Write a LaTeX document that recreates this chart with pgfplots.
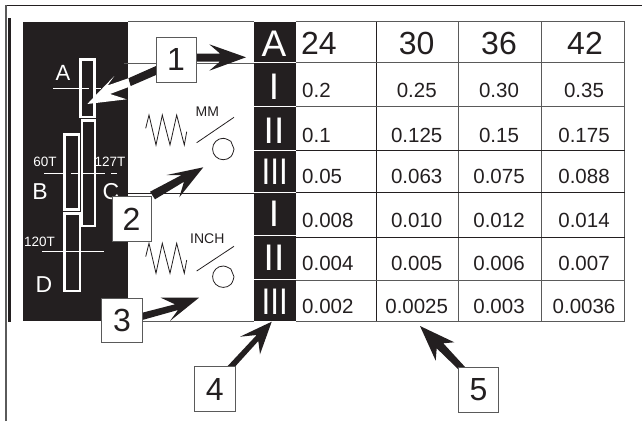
\documentclass[border=0pt]{standalone}
\usepackage{pgfplots}
\pgfplotsset{compat=1.18}
\usepackage{fontspec}
\setmainfont{Liberation Sans}
\definecolor{ink}{HTML}{231F20}
\definecolor{rule}{HTML}{5A5A5A}
\newcommand{\fs}[1]{\fontsize{#1}{#1}\selectfont}
\begin{document}
\begin{tikzpicture}[x=1pt,y=1pt]
\path[use as bounding box] (0,0) rectangle (642,421);
\begin{axis}[
  scale only axis, width=642pt, height=421pt,
  xmin=0, xmax=642, ymin=0, ymax=421, y dir=reverse,
  hide axis, clip=true,
  anchor=south west, at={(0pt,0pt)},
]
% frame
\addplot[draw=rule, line width=1.6pt] coordinates {(6,421) (6,5.5) (642,5.5)};
\addplot[draw=ink, line width=1.6pt] coordinates {(7,5.5) (642,5.5)};
\addplot[draw=ink, line width=2.4pt] coordinates {(9.3,18) (9.3,322)};
% black panels
\addplot[fill=ink, draw=none] coordinates {(22.7,21.7) (128.3,21.7) (128.3,321) (22.7,321)} --cycle;
\addplot[fill=ink, draw=none] coordinates {(254.3,21.7) (295.7,21.7) (295.7,321) (254.3,321)} --cycle;
% thin rules, middle panel
\addplot[draw=rule, line width=0.8pt] coordinates {(128,21.7) (254,21.7)};
\addplot[draw=rule, line width=0.8pt] coordinates {(124,63) (254,63)};
\addplot[draw=ink, line width=0.8pt] coordinates {(128,193) (254,193)};
\addplot[draw=rule, line width=0.8pt] coordinates {(128,321) (254,321)};
% table grid
\addplot[draw=rule, line width=0.9pt] coordinates {(295.7,21.7) (624.7,21.7) (624.7,321) (295.7,321)};
\addplot[draw=ink, line width=0.9pt] coordinates {(376.7,21.7) (376.7,321)};
\addplot[draw=rule, line width=0.9pt] coordinates {(458.7,21.7) (458.7,321)};
\addplot[draw=rule, line width=0.9pt] coordinates {(541.3,21.7) (541.3,321)};
\addplot[draw=rule, line width=0.9pt] coordinates {(295.7,62.7) (624.7,62.7)};
\addplot[draw=rule, line width=0.9pt] coordinates {(295.7,106.7) (624.7,106.7)};
\addplot[draw=ink, line width=0.9pt] coordinates {(295.7,150) (624.7,150)};
\addplot[draw=ink, line width=0.9pt] coordinates {(295.7,192.7) (624.7,192.7)};
\addplot[draw=ink, line width=0.9pt] coordinates {(295.7,237) (624.7,237)};
\addplot[draw=rule, line width=0.9pt] coordinates {(295.7,280) (624.7,280)};
% white separators in the black column
\addplot[draw=white, line width=1pt] coordinates {(254.3,62.7) (295.7,62.7)};
\addplot[draw=white, line width=1pt] coordinates {(254.3,106.7) (295.7,106.7)};
\addplot[draw=white, line width=1pt] coordinates {(254.3,150) (295.7,150)};
\addplot[draw=white, line width=1pt] coordinates {(254.3,192.7) (295.7,192.7)};
\addplot[draw=white, line width=1pt] coordinates {(254.3,235.7) (295.7,235.7)};
\addplot[draw=white, line width=1pt] coordinates {(254.3,279.3) (295.7,279.3)};
% gears
\addplot[draw=white, line width=2.3pt] coordinates {(80.5,117) (80.5,59.5) (94.5,59.5) (94.5,117)} --cycle;
\addplot[draw=white, line width=2.3pt] coordinates {(82,120.5) (82,226) (95,226) (95,120.5)} --cycle;
\addplot[draw=white, line width=2.3pt] coordinates {(64.5,209.5) (64.5,134.5) (79,134.5) (79,209.5)} --cycle;
\addplot[draw=white, line width=2.3pt] coordinates {(64.5,213.5) (64.5,291) (80,291) (80,213.5)} --cycle;
% shafts
\addplot[draw=white, line width=0.9pt] coordinates {(53,88.5) (89,88.5)};
\addplot[draw=white, line width=0.9pt] coordinates {(96,88.5) (101,88.5)};
\addplot[draw=white, line width=0.9pt] coordinates {(44,173.3) (66,173.3)};
\addplot[draw=white, line width=0.9pt] coordinates {(70.7,173.3) (78,173.3)};
\addplot[draw=white, line width=0.9pt] coordinates {(83,173.3) (105,173.3)};
\addplot[draw=white, line width=0.9pt] coordinates {(111,173.3) (117.3,173.3)};
\addplot[draw=white, line width=0.9pt] coordinates {(42,251.3) (104,251.3)};
% springs
\addplot[draw=ink, line width=0.8pt] coordinates {(145.7,128.3) (149,115) (156,145) (162.3,115) (170,145) (176.7,115) (184.3,145) (186.7,131.7)};
\addplot[draw=ink, line width=0.8pt] coordinates {(145.7,256.6) (149,243.3) (156,273.3) (162.3,243.3) (170,273.3) (176.7,243.3) (184.3,273.3) (186.7,260)};
% switches
\addplot[draw=ink, line width=0.8pt] coordinates {(196.7,142.7) (234,117.3)};
\addplot[draw=ink, line width=0.8pt] coordinates {(196.7,271) (234,246.3)};
\addplot[draw=ink, line width=0.8pt, smooth, tension=0.7] coordinates {(234,149) (230.9,156.6) (223.3,159.7) (215.7,156.6) (212.6,149) (215.7,141.4) (223.3,138.3) (230.9,141.4)} --cycle;
\addplot[draw=ink, line width=0.8pt, smooth, tension=0.7] coordinates {(234,276.7) (230.9,284.3) (223.3,287.4) (215.7,284.3) (212.6,276.7) (215.7,269.1) (223.3,266) (230.9,269.1)} --cycle;
% arrows
\addplot[fill=ink, draw=none] coordinates {(196,53.5) (220,53.5) (209.3,44.3) (246,57.3) (209.3,70.7) (220,61.5) (196,61.5)} --cycle;
\addplot[fill=ink, draw=none] coordinates {(156,66) (156,75) (130.7,86) (128.3,78.3)} --cycle;
\addplot[fill=white, draw=none] coordinates {(128.3,78.3) (130,86.5) (110,94) (126.7,99.3) (87.3,104) (114.3,76) (107.5,85.5)} --cycle;
\addplot[fill=ink, draw=none] coordinates {(150,191.7) (181.7,175) (166.7,175) (203.3,167.3) (179.3,197.3) (184,181.7) (155,199.3)} --cycle;
\addplot[fill=ink, draw=none] coordinates {(142.3,312.7) (175,304.3) (160.7,297.7) (199,297.7) (170,321) (178,310) (142.3,320)} --cycle;
\addplot[fill=ink, draw=none] coordinates {(227.7,366) (256.7,335) (240,336.7) (271.7,321.7) (260,354.3) (258.3,341) (235,366.7)} --cycle;
\addplot[fill=ink, draw=none] coordinates {(458.3,369.3) (436.7,348.3) (435.7,360.7) (420,326) (454.3,342.3) (443.3,343.3) (465.7,367.7)} --cycle;
% numbered boxes
\addplot[fill=white, draw=rule, line width=0.9pt] coordinates {(156,37.3) (196.3,37.3) (196.3,82.3) (156,82.3)} --cycle;
\addplot[fill=white, draw=rule, line width=0.9pt] coordinates {(101.7,298) (142.3,298) (142.3,342.7) (101.7,342.7)} --cycle;
\addplot[fill=white, draw=rule, line width=0.9pt] coordinates {(194.7,366) (235,366) (235,411) (194.7,411)} --cycle;
\addplot[fill=white, draw=rule, line width=0.9pt] coordinates {(458.3,367.7) (498.7,367.7) (498.7,412.3) (458.3,412.3)} --cycle;
% table header and values
\addplot[draw=none, no markers, nodes near coords, point meta=explicit symbolic,
  nodes near coords style={anchor=west, inner sep=0pt, text=ink, font=\fs{32}}]
  table[meta=t] {
x y t
301 43.5 24
};
\addplot[draw=none, no markers, nodes near coords, point meta=explicit symbolic,
  nodes near coords style={anchor=center, inner sep=0pt, text=ink, font=\fs{32}}]
  table[meta=t] {
x y t
416.7 43.5 30
499 43.5 36
585 43.5 42
};
\addplot[draw=none, no markers, nodes near coords, point meta=explicit symbolic,
  nodes near coords style={anchor=west, inner sep=0pt, text=ink, font=\fs{20.5}}]
  table[meta=t] {
x y t
302 90 0.2
302 135 0.1
302 176.7 0.05
302 220 0.008
302 263.3 0.004
302 306.7 0.002
};
\addplot[draw=none, no markers, nodes near coords, point meta=explicit symbolic,
  nodes near coords style={anchor=center, inner sep=0pt, text=ink, font=\fs{20.5}}]
  table[meta=t] {
x y t
416.7 90 0.25
416.7 135 0.125
416.7 176.7 0.063
416.7 220 0.010
416.7 263.3 0.005
416.7 306.7 0.0025
499 90 0.30
499 135 0.15
499 176.7 0.075
499 220 0.012
499 263.3 0.006
499 306.7 0.003
584 90 0.35
584 135 0.175
584 176.7 0.088
584 220 0.014
584 263.3 0.007
584 306.7 0.0036
};
% text labels
\node[text=white, font=\fs{37}, inner sep=0pt] at (axis cs:274,43.5) {A};
\node[text=white, font=\fs{37}, inner sep=0pt] at (axis cs:274,86.5) {I};
\node[text=white, font=\fs{37}, inner sep=0pt] at (axis cs:274,131) {II};
\node[text=white, font=\fs{37}, inner sep=0pt] at (axis cs:274.7,171.5) {\scalebox{0.85}[1]{III}};
\node[text=white, font=\fs{37}, inner sep=0pt] at (axis cs:274,214) {I};
\node[text=white, font=\fs{37}, inner sep=0pt] at (axis cs:274,258) {II};
\node[text=white, font=\fs{37}, inner sep=0pt] at (axis cs:274.7,301.3) {\scalebox{0.85}[1]{III}};
\node[text=white, font=\fs{22}, inner sep=0pt] at (axis cs:63,73) {A};
\node[text=white, font=\fs{13.5}, inner sep=0pt] at (axis cs:45,162) {60T};
\node[text=white, font=\fs{13.5}, inner sep=0pt] at (axis cs:110,162) {127T};
\node[text=white, font=\fs{23}, inner sep=0pt] at (axis cs:40,192) {B};
\node[text=white, font=\fs{23}, inner sep=0pt] at (axis cs:111,192) {C};
\node[text=white, font=\fs{13.5}, inner sep=0pt] at (axis cs:39.5,241.7) {120T};
\node[text=white, font=\fs{23}, inner sep=0pt] at (axis cs:44,285) {D};
\node[text=ink, font=\fs{14}, inner sep=0pt] at (axis cs:207.3,111.7) {MM};
\node[text=ink, font=\fs{14}, inner sep=0pt] at (axis cs:207.3,239) {INCH};
\addplot[fill=white, draw=rule, line width=0.9pt] coordinates {(112.3,196.7) (151.7,196.7) (151.7,241) (112.3,241)} --cycle;
\node[text=ink, font=\fs{32}, inner sep=0pt] at (axis cs:176,59.5) {1};
\node[text=ink, font=\fs{32}, inner sep=0pt] at (axis cs:131.5,219) {2};
\node[text=ink, font=\fs{32}, inner sep=0pt] at (axis cs:122,320.5) {3};
\node[text=ink, font=\fs{32}, inner sep=0pt] at (axis cs:214.7,389) {4};
\node[text=ink, font=\fs{32}, inner sep=0pt] at (axis cs:478.5,390) {5};
\end{axis}
\end{tikzpicture}
\end{document}
